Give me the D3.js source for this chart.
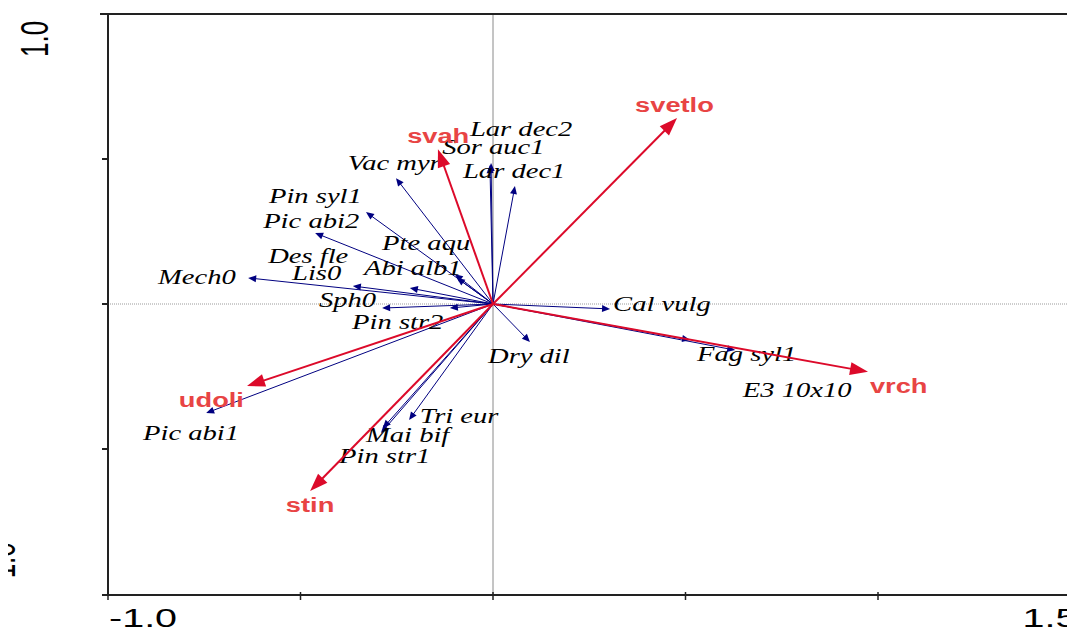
<!DOCTYPE html>
<html>
<head>
<meta charset="utf-8">
<script src="https://cdn.jsdelivr.net/npm/d3@7"></script>
<style>
  html, body { margin: 0; padding: 0; background: #fff; overflow: hidden; }
  svg { display: block; }
</style>
</head>
<body>
<svg id="chart" width="1067" height="632"></svg>
<script>
// ---- data (biplot scores) ----
const speciesNames = ["Lar dec2","Sor auc1","Lar dec1","Vac myr","Pin syl1","Pic abi2","Pte aqu","Abi alb1","Des fle","Lis0","Mech0","Sph0","Pin str2","Cal vulg","Dry dil","Fag syl1","E3 10x10","Pic abi1","Tri eur","Mai bif","Pin str1"];
const speciesX = [-0.005,-0.008,0.057,-0.252,-0.330,-0.462,-0.099,-0.094,-0.216,-0.364,-0.636,-0.288,-0.112,0.304,0.096,0.512,0.629,-0.745,-0.218,-0.286,-0.291];
const speciesY = [0.486,0.479,0.407,0.434,0.317,0.245,0.103,0.090,0.055,0.062,0.090,-0.014,-0.014,-0.017,-0.131,-0.124,-0.159,-0.376,-0.400,-0.428,-0.445];
const speciesLabelX = [-0.060,-0.132,-0.078,-0.377,-0.582,-0.597,-0.288,-0.335,-0.584,-0.522,-0.870,-0.452,-0.366,0.312,-0.013,0.530,0.649,-0.909,-0.190,-0.330,-0.400];
const speciesLabelY = [0.579,0.517,0.434,0.462,0.348,0.262,0.186,0.100,0.141,0.083,0.069,-0.010,-0.086,-0.024,-0.203,-0.197,-0.321,-0.469,-0.410,-0.476,-0.548];

const envNames = ["svetlo","svah","vrch","udoli","stin"];
const envX = [0.478,-0.143,0.974,-0.639,-0.475];
const envY = [0.641,0.534,-0.234,-0.283,-0.645];
const envLabelX = [0.369,-0.223,0.979,-0.816,-0.538];
const envLabelY = [0.662,0.555,-0.307,-0.355,-0.717];

const xTicks = [-1.0,-0.5,0,0.5,1.0,1.5];
const yTicks = [-1.0,-0.5,0,0.5,1.0];
const xTickLabels = ["-1.0","1.5"];
const yTickLabels = ["-1.0","1.0"];

// ---- layout ----
const svg = d3.select("#chart");
const x = d3.scaleLinear().domain([-1, 1.5]).range([108, 1070.5]);
const y = d3.scaleLinear().domain([-1, 1]).range([594, 14]);
const SX = 1.33;   // horizontal stretch of the original figure
const TSX = 1.52;  // stretch of tick labels

svg.append("defs").append("clipPath").attr("id", "leftclip")
  .append("rect").attr("x", 8).attr("y", 0).attr("width", 1059).attr("height", 632);

// centre lines
svg.append("line").attr("x1", x(0)).attr("x2", x(0)).attr("y1", y(1)).attr("y2", y(-1))
  .attr("stroke", "#8a8a8a").attr("stroke-width", 1);
svg.append("line").attr("x1", x(-1)).attr("x2", 1067).attr("y1", y(0)).attr("y2", y(0))
  .attr("stroke", "#9a9a9a").attr("stroke-width", 1).attr("stroke-dasharray", "1,1");

// axes
const axisColor = "#222";
svg.append("line").attr("x1", 100).attr("x2", 1067).attr("y1", y(1)).attr("y2", y(1))
  .attr("stroke", axisColor).attr("stroke-width", 2);
svg.append("line").attr("x1", x(-1)).attr("x2", x(-1)).attr("y1", y(1)).attr("y2", y(-1) + 1)
  .attr("stroke", axisColor).attr("stroke-width", 2);
svg.append("line").attr("x1", 102).attr("x2", 1067).attr("y1", y(-1) + 1).attr("y2", y(-1) + 1)
  .attr("stroke", axisColor).attr("stroke-width", 2);
yTicks.filter(v => v > -1 && v < 1).forEach(v => {
  svg.append("line").attr("x1", x(-1) - 6).attr("x2", x(-1)).attr("y1", y(v)).attr("y2", y(v))
    .attr("stroke", axisColor).attr("stroke-width", 2);
});
xTicks.forEach(v => {
  svg.append("line").attr("x1", x(v)).attr("x2", x(v)).attr("y1", y(-1) - 2).attr("y2", y(-1) + 6)
    .attr("stroke", axisColor).attr("stroke-width", 1.5);
});

// tick labels
const tickFont = "'Liberation Sans', Arial, sans-serif";
const tickSize = 26;
svg.append("text").text(xTickLabels[0])
  .attr("transform", `translate(${x(-1) + 1},627) scale(${TSX},1)`)
  .attr("font-family", tickFont).attr("font-size", tickSize).attr("fill", "#000");
svg.append("text").text(xTickLabels[1]).attr("text-anchor", "end")
  .attr("transform", `translate(${x(1.5) + 7},627) scale(${TSX},1)`)
  .attr("font-family", tickFont).attr("font-size", tickSize).attr("fill", "#000");
svg.append("text").text(yTickLabels[1])
  .attr("transform", `translate(48,${y(1) + 43}) scale(${TSX},1) rotate(-90)`)
  .attr("font-family", tickFont).attr("font-size", tickSize).attr("fill", "#000");
svg.append("g").attr("clip-path", "url(#leftclip)")
  .append("text").text(yTickLabels[0])
  .attr("transform", `translate(15,${y(-1) - 7}) scale(${TSX},1) rotate(-90)`)
  .attr("font-family", tickFont).attr("font-size", tickSize).attr("fill", "#000");

// arrow helper
function arrow(g, x0, y0, x1, y1, color, width, L, W) {
  const dx = x1 - x0, dy = y1 - y0;
  const len = Math.hypot(dx, dy);
  const ux = dx / len, uy = dy / len, nx = -uy, ny = ux;
  const bx = x1 - L * ux, by = y1 - L * uy;
  g.append("line").attr("x1", x0).attr("y1", y0)
    .attr("x2", x1 - L * 0.7 * ux).attr("y2", y1 - L * 0.7 * uy)
    .attr("stroke", color).attr("stroke-width", width);
  g.append("path")
    .attr("d", `M${x1},${y1}L${bx + W * nx},${by + W * ny}L${bx - W * nx},${by - W * ny}Z`)
    .attr("fill", color);
}

const ox = x(0), oy = y(0);
const blue = "#000080";
const red = "#dc0a2a";

const gSp = svg.append("g");
speciesNames.forEach((n, i) => arrow(gSp, ox, oy, x(speciesX[i]), y(speciesY[i]), blue, 1, 8, 3.5));

const gSpL = svg.append("g");
speciesNames.forEach((n, i) => {
  gSpL.append("text").text(n)
    .attr("transform", `translate(${x(speciesLabelX[i])},${y(speciesLabelY[i])}) scale(${SX},1)`)
    .attr("font-family", "'Liberation Serif', 'Times New Roman', serif")
    .attr("font-style", "italic").attr("font-size", 21.5).attr("fill", "#000");
});

const gEnv = svg.append("g");
envNames.forEach((n, i) => arrow(gEnv, ox, oy, x(envX[i]), y(envY[i]), red, 2, 18, 6.5));

const gEnvL = svg.append("g");
envNames.forEach((n, i) => {
  gEnvL.append("text").text(n)
    .attr("transform", `translate(${x(envLabelX[i])},${y(envLabelY[i])}) scale(${SX},1)`)
    .attr("font-family", "'Liberation Sans', Arial, sans-serif")
    .attr("font-weight", "bold").attr("font-size", 20.5).attr("fill", "#e84444");
});
</script>
</body>
</html>
